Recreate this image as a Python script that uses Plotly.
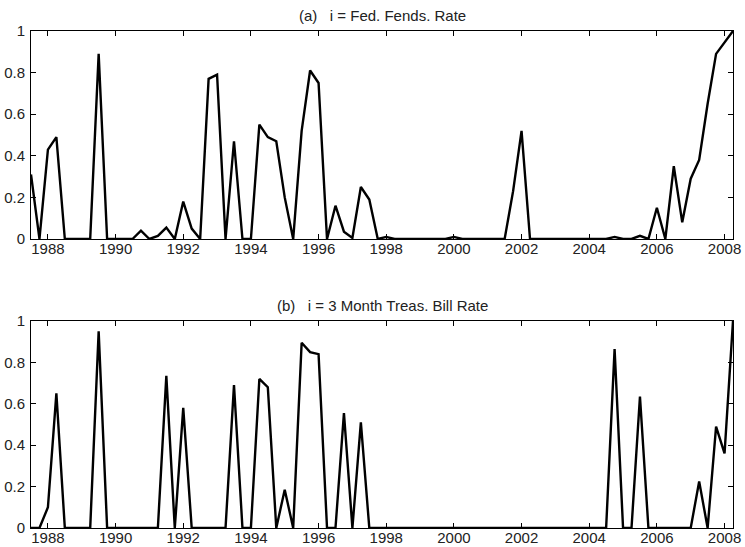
import plotly.graph_objects as go

# Quarterly dates 1987Q3 .. 2008Q2 (decimal years)
quarters = [1987.5 + 0.25 * k for k in range(84)]

fed_funds = [
    0.31, 0.0, 0.43, 0.49, 0.0, 0.0, 0.0, 0.0, 0.89, 0.0,
    0.0, 0.0, 0.0, 0.04, 0.0, 0.015, 0.055, 0.0, 0.18, 0.05,
    0.0, 0.77, 0.79, 0.0, 0.47, 0.0, 0.0, 0.55, 0.49, 0.47,
    0.2, 0.0, 0.52, 0.81, 0.75, 0.0, 0.16, 0.035, 0.005, 0.25,
    0.19, 0.0, 0.01, 0.0, 0.0, 0.0, 0.0, 0.003, 0.0, 0.0,
    0.01, 0.0, 0.0, 0.0, 0.0, 0.0, 0.0, 0.23, 0.52, 0.0,
    0.0, 0.0, 0.0, 0.0, 0.0, 0.0, 0.0, 0.0, 0.0, 0.01,
    0.0, 0.0, 0.015, 0.0, 0.15, 0.0, 0.35, 0.08, 0.29, 0.38,
    0.65, 0.89, 0.945, 1.0,
]

tbill = [
    0.0, 0.0, 0.1, 0.65, 0.0, 0.0, 0.0, 0.0, 0.95, 0.0,
    0.0, 0.0, 0.0, 0.0, 0.0, 0.0, 0.735, 0.0, 0.58, 0.0,
    0.0, 0.0, 0.0, 0.0, 0.69, 0.0, 0.0, 0.72, 0.68, 0.0,
    0.185, 0.0, 0.895, 0.85, 0.84, 0.0, 0.0, 0.555, 0.0, 0.51,
    0.0, 0.0, 0.0, 0.0, 0.0, 0.0, 0.0, 0.0, 0.0, 0.0,
    0.0, 0.0, 0.0, 0.0, 0.0, 0.0, 0.0, 0.0, 0.0, 0.0,
    0.0, 0.0, 0.0, 0.0, 0.0, 0.0, 0.0, 0.0, 0.0, 0.865,
    0.0, 0.0, 0.635, 0.0, 0.0, 0.0, 0.0, 0.0, 0.0, 0.225,
    0.0, 0.49, 0.36, 1.0,
]

x_ticks = list(range(1988, 2009, 2))
y_ticks = [0, 0.2, 0.4, 0.6, 0.8, 1]
y_labels = ["0", "0.2", "0.4", "0.6", "0.8", "1"]

title_a = "(a)\u00a0\u00a0\u00a0i = Fed. Fends. Rate"
title_b = "(b)\u00a0\u00a0\u00a0i = 3 Month Treas. Bill Rate"

fig = go.Figure()
fig.add_trace(go.Scatter(x=quarters, y=fed_funds, mode="lines",
                         line=dict(color="black", width=2.4),
                         xaxis="x", yaxis="y", showlegend=False))
fig.add_trace(go.Scatter(x=quarters, y=tbill, mode="lines",
                         line=dict(color="black", width=2.4),
                         xaxis="x2", yaxis="y2", showlegend=False))

font = dict(family="Liberation Sans, Arial, sans-serif", size=15, color="#222")

xcommon = dict(range=[1987.5, 2008.25], tickvals=x_ticks, ticks="inside",
               ticklen=5, tickcolor="black", showline=True, linecolor="black",
               linewidth=1, mirror="allticks", showgrid=False, zeroline=False,
               tickfont=font, automargin=False, ticklabelstandoff=-4)
ycommon = dict(range=[0, 1], tickvals=y_ticks, ticktext=y_labels, ticks="inside",
               ticklen=5, tickcolor="black", showline=True, linecolor="black",
               linewidth=1, mirror="allticks", showgrid=False, zeroline=False,
               tickfont=font, automargin=False, ticklabelstandoff=2)

fig.update_layout(
    width=745, height=547,
    margin=dict(l=31, r=12, t=31, b=19),
    paper_bgcolor="white", plot_bgcolor="white",
    xaxis=dict(xcommon, domain=[0, 1], anchor="y"),
    yaxis=dict(ycommon, domain=[0.5815, 1], anchor="x"),
    xaxis2=dict(xcommon, domain=[0, 1], anchor="y2"),
    yaxis2=dict(ycommon, domain=[0, 0.4165], anchor="x2"),
    annotations=[
        dict(text=title_a, xref="x domain", yref="y domain", x=0.5, y=1,
             xanchor="center", yanchor="bottom", yshift=5, showarrow=False,
             font=font),
        dict(text=title_b, xref="x2 domain", yref="y2 domain", x=0.5, y=1,
             xanchor="center", yanchor="bottom", yshift=5, showarrow=False,
             font=font),
    ],
)

fig.write_html(
    "out.html",
    config={"displayModeBar": False},
    post_script="document.body.style.margin='0px';document.body.style.overflow='hidden';",
)
